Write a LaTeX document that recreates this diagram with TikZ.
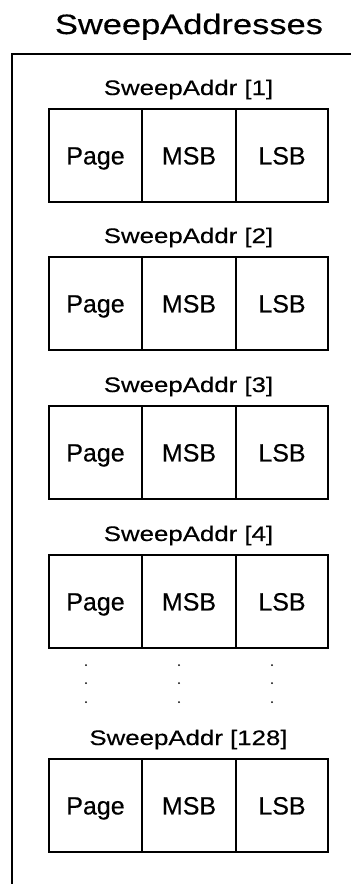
\documentclass[tikz,border=0pt]{standalone}
\usepackage{fontspec}
\setmainfont{Liberation Sans}
\newfontfamily\cellsans[FakeBold=0.4]{Liberation Sans}
\newfontfamily\widesans[FakeStretch=1.23,FakeBold=0.4]{Liberation Sans}
\begin{document}
\begin{tikzpicture}[x=1pt, y=-1pt,
  frameline/.style={line width=1.9pt, line cap=rect},
  cell/.style={draw, line width=1.1pt, inner sep=0pt, minimum height=93pt,
    text height=17.9pt, text depth=0pt, font=\cellsans\fontsize{25}{30}\selectfont},
  pagecell/.style={cell, minimum width=93pt},
  msbcell/.style={cell, minimum width=94pt},
  lsbcell/.style={cell, minimum width=92pt},
  reclabel/.style={anchor=base, inner sep=0pt, font=\widesans\fontsize{21}{25}\selectfont},
  titlelabel/.style={anchor=base, inner sep=0pt, font=\widesans\fontsize{28}{34}\selectfont},
  gapdot/.style={fill=black}]
  \useasboundingbox (0,0) rectangle (354,884);

  % heading of the array
  \node[titlelabel] (title) at (189,34) {SweepAddresses};

  % open frame: top edge and left edge only
  \coordinate (frameTR) at (350,54);
  \coordinate (frameTL) at (12,54);
  \coordinate (frameBL) at (12,884);
  \draw[frameline] (frameTR) -- (frameTL) -- (frameBL);

  % one record per entry: caption above a three-field box
  \foreach \top/\idx in {109/1, 257/2, 406/3, 555/4, 759/128} {
    \node[reclabel] (lab\idx) at (188.5,\top-14) {SweepAddr [\idx]};
    \node[pagecell] (page\idx) at (95.5,\top+46.5) {Page};
    \node[msbcell]  (msb\idx)  at (189,\top+46.5) {MSB};
    \node[lsbcell]  (lsb\idx)  at (282,\top+46.5) {LSB};
  }

  % ellipsis between entry 4 and entry 128
  \foreach \dx in {86,179,272}
    \foreach \dy in {665,683,702}
      \fill[gapdot] (\dx,\dy) circle (1pt);
\end{tikzpicture}
\end{document}
